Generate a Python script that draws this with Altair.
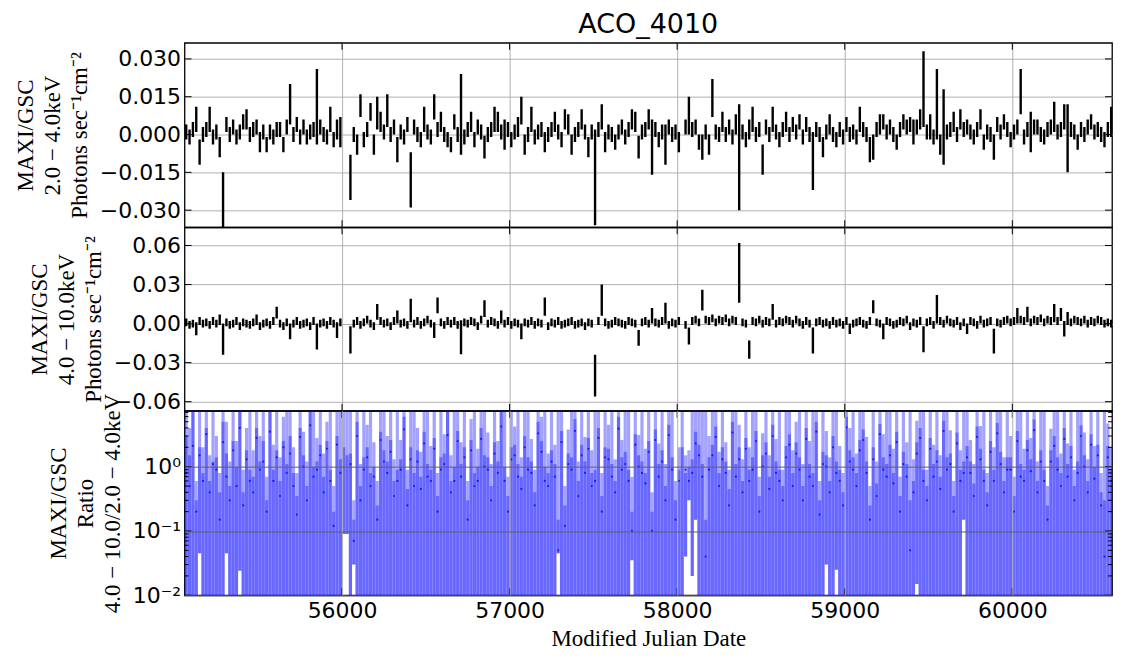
import altair as alt
import pandas as pd

# ---------------- data ----------------
BIN_START = 55070   # MJD of the first bin centre
BIN_DAYS = 20       # bin width in days

# 2.0-4.0 keV rate, units of 1e-3 photons/s/cm2 (None = no data)
SOFT_RATE = [
    1, -1, 2, 6, -7, 0, 2, 6, -1, 1, -5, -26, 4, 0, 3, -1, 1, 5, 6, 0,
    2, 3, -3, 1, -4, 1, -1, 2, 2, -4, 3, 12, 0, 4, -1, 3, -1, 1, 2, 11,
    3, 0, -1, 6, -2, 2, 1, None, None, -17, 0, -4, 11.5, -2, 2, 9, -4, 8.5, 5, 1,
    9.5, 0, 3, -6, 1, -1, 4, -18, 3, 0, -2, 6, 1, -1, 11, 2, 5, 0, -2, -4,
    5, 0, 8, -1, 2, 5, -2, 3, 1, -5, 0, 2, 6, 5, 1, 0, 2, -2, 1, 3,
    9.5, -4, 0, 6, -1, 1, 2, -3, 0, 2, 5, 1, -2, 6, 4, -4, 0, 2, 6, 1,
    -5, 1, -17, 2, 7, -3, 1, 0, -3, 1, 3, -1, 2, 6, 5, -5, 1, 2, 6, -5,
    2, -2, 1, -4, 3, 0, 1, -3, None, 3, 7.5, 2, 3, -3, -5, 1, -4, 14.5, 1, 0,
    5, 0, 3, -1, 4, -9, 1, -2, 2, 6, 0, 2, -10, 3, 0, 6, 1, -2, 2, 5,
    0, 4, 1, 5, -1, 4, 0, -10.5, 2, 0, -5, 1, 4, 0, -2, 2, -1, 4, 0, 1,
    -1, 6, 2, 0, -6, -5, 2, 4, 5, 1, 3, 0, -3, 2, 5, 3, 4, 1, 3, 6,
    18, 1, 3, -1, 12, -4, 3, 1, 2, 5, 0, 6, 2, 3, 1, -1, 2, 6, -3, 1,
    0, -5, 4, 1, 5, 2, -2, 1, 3, 17, -1, 2, 1, 3, 3, 0, -1, 2, 3, 7,
    1, 2, 7, -1.5, 2, 1, -3, 2, 0, 3, 5, 1, 2, 0, -2, 2, 5,
]
SOFT_ERR = [
    3, 3, 3, 5, 5, 3, 3, 5, 3, 3, 4, 11, 3, 3, 3, 3, 3, 3, 4, 3,
    3, 3, 4, 3, 3, 3, 3, 3, 3, 3, 3, 8, 3, 3, 3, 3, 3, 3, 3, 15,
    3, 3, 3, 5, 3, 4, 6, 0, 0, 9, 3, 4, 4.5, 3, 3, 3.5, 4, 6.5, 4, 3,
    6.5, 3, 3, 5, 3, 3, 3, 11, 3, 3, 3, 5, 3, 3, 5, 3, 4, 3, 3, 3,
    3, 3, 16, 3, 3, 4, 3, 3, 3, 4.5, 3, 3, 5, 4, 3, 6, 3, 3, 3, 4,
    5.5, 4, 3, 5, 3, 3, 3, 4, 3, 3, 4, 3, 3, 4, 4, 4, 3, 3, 4, 3,
    4, 3, 19, 3, 5, 4, 3, 3, 3, 3, 3, 3, 3, 4, 4, 4.5, 3, 3, 4, 11,
    3, 3, 3, 8, 3, 3, 3, 4, 0, 3, 7.5, 3, 3, 3, 5, 3, 4, 7.5, 3, 3,
    4, 3, 3, 3, 4, 21, 3, 3, 4, 5, 3, 3, 6, 3, 3, 5, 3, 3, 3, 4,
    3, 3, 3, 3, 3, 3, 3, 11.5, 3, 3, 4, 3, 4, 3, 3, 3, 3, 3, 3, 3,
    3, 5, 3, 3, 5, 5, 3, 4, 3, 3, 3, 3, 3, 3, 3, 3, 3, 5, 3, 4,
    15, 3, 5, 3, 14, 4, 15, 3, 3, 4, 3, 4, 3, 3, 3, 3, 3, 4, 3, 3,
    3, 5, 3, 3, 3, 3, 3, 3, 3, 9, 3, 3, 8, 3, 3, 3, 3, 3, 3, 6,
    3, 3, 5, 13.5, 3, 3, 3, 3, 3, 3, 3, 3, 3, 3, 3, 3, 6,
]

# 4.0-10.0 keV rate, units of 1e-3 photons/s/cm2
HARD_RATE = [
    1, -1, 0, -4, 2, 0, 1, -1, 2, 0, 3, -12, 1, -1, 0, 2, -2, 1, 0, -1,
    1, 3, -2, 0, 1, -1, 2, 8.5, 0, -2, 1, -6, 0, 2, -1, 0, 1, -2, 2, -10,
    0, 1, -1, 2, 0, -5, 1, None, None, -12.5, 0, 2, -1, 1, 3, 0, -2, 9, 2, 0,
    1, -2, 2, 5, 0, 1, -1, 10, 0, 2, -1, 1, 3, 0, -5, 14, 1, -1, 2, 0,
    2, -1, -10.5, 1, 0, 2, 1, -2, 3, 11.5, 0, 2, 1, -1, 5, 0, 2, -1, 1, 0,
    -6, 1, 0, 2, -1, 1, 0, 13, -2, 1, 0, 2, -1, 0, 1, 2, -1, 0, 1, -2,
    1, 0, -40, 2, 18, 1, -1, 0, 2, 1, 0, -1, 2, 1, 0, -11, 1, 2, 0, 6,
    1, 0, 2, 8, -1, 1, 0, 2, None, -1, -9.5, 2, 3, 1, 18, 3, 2, 4, 1, 3,
    2, 4, 1, 3, 2, 39, 1, 0, -20, 2, 1, 3, 0, 2, 1, 9, 0, 2, 1, 3,
    2, 0, 3, 1, -1, 2, 0, -13, 1, 2, 0, 1, -1, 2, 0, 1, -1, 2, -4, 0,
    1, 2, 0, -1, 2, 13, 1, 0, -6, 2, 1, -1, 0, 2, 1, 3, -2, 1, 0, 2,
    -12, 1, 2, -1, 11, 2, 0, 3, 1, 0, 2, -2, 1, -4, 2, 1, -1, 3, 0, 1,
    2, -13.5, 1, 0, 2, 3, 1, 2, 6, 3, 2, 7, 1, 3, 2, 4, 1, 3, 2, 8,
    2, 7, -4, 4, 1, 3, 2, 1, 3, 0, 2, 1, 3, 2, 0, 1, 0,
]
HARD_ERR = [
    3, 3, 3, 5, 3, 3, 3, 3, 3, 3, 4, 12, 3, 3, 3, 3, 3, 3, 3, 3,
    3, 4, 3, 3, 3, 3, 3, 4.5, 3, 3, 3, 6, 3, 3, 3, 3, 3, 3, 3, 10,
    3, 3, 3, 3, 3, 6, 3, 0, 0, 10.5, 3, 3, 3, 3, 3, 3, 3, 6, 3, 3,
    3, 3, 3, 5, 3, 3, 3, 9, 3, 3, 3, 3, 3, 3, 6, 6, 3, 3, 3, 3,
    3, 3, 13, 3, 3, 3, 3, 3, 3, 6.5, 3, 3, 3, 3, 5, 3, 3, 3, 3, 3,
    6, 3, 3, 3, 3, 3, 3, 7, 3, 3, 3, 3, 3, 3, 3, 3, 3, 3, 3, 3,
    3, 3, 16, 3, 12, 3, 3, 3, 3, 3, 3, 3, 3, 3, 3, 6, 3, 3, 3, 6,
    3, 3, 3, 8, 3, 3, 3, 3, 0, 3, 6.5, 3, 3, 3, 8, 3, 3, 3, 3, 3,
    3, 3, 3, 3, 3, 23, 3, 3, 7, 3, 3, 3, 3, 3, 3, 6, 3, 3, 3, 3,
    3, 3, 3, 3, 3, 3, 3, 10, 3, 3, 3, 3, 3, 3, 3, 3, 3, 3, 4, 3,
    3, 3, 3, 3, 3, 5, 3, 3, 6, 3, 3, 3, 3, 3, 3, 3, 3, 3, 3, 3,
    10, 3, 3, 3, 11, 3, 3, 3, 3, 3, 3, 3, 3, 4, 3, 3, 3, 3, 3, 3,
    3, 9.5, 3, 3, 3, 3, 3, 3, 6, 3, 3, 6, 3, 3, 3, 3, 3, 3, 3, 7,
    3, 5, 6, 5, 3, 3, 3, 3, 3, 3, 3, 3, 3, 3, 3, 3, 3,
]

# hardness ratio: central value, upper end of the bar, top of the denser part
RATIO_MID = [
    0.8, 0.5, 2.1, 0.2, 1.5, 0.6, 3.2, 0.4, 1.1, 0.9, 0.15, 2.4, 0.7, 0.3, 1.8, 0.5, 4, 0.25, 1.3, 0.6,
    0.4, 2.8, 0.9, 1.2, 0.2, 3.5, 0.6, 1.4, 0.35, 2, 0.8, 1.6, 0.5, 0.18, 2.9, 1, 0.3, 4.4, 0.7, 0.9,
    1.5, 0.4, 1.9, 0.6, 0.12, 2.2, 0.8, None, None, 1.1, 0.07, 3, 0.3, 0.9, 1.4, 0.5, 0.7, 0.15, 2.6, 1.2,
    0.8, 1.7, 0.35, 0.6, 0.9, 3.8, 0.25, 1.3, 0.5, 1.2, 0.45, 2.3, 0.7, 0.6, 1.9, 0.2, 0.9, 1.1, 3.1, 0.4,
    0.6, 2.5, 0.7, 1.4, 0.15, 1.8, 0.5, 0.6, 2.7, 1, 0.9, 0.3, 1.6, 0.8, 4.2, 0.6, 0.2, 1.3, 1.5, 0.7,
    0.45, 2, 0.9, 0.8, 0.25, 3.3, 1.7, 0.6, 0.5, 1.2, 0.7, 0.05, 2.4, 0.12, 1.1, 0.9, 3.6, 0.35, 1.5, 0.8,
    1.9, 0.5, 0.6, 2.8, 0.2, 1.4, 1.3, 0.7, 0.4, 3.9, 0.9, 1.1, 0.6, 0.1, 2.2, 1, 0.8, 0.55, 1.7, 0.1,
    2.6, 0.7, 1.2, 0.3, 3.1, 0.9, 0.15, 0.6, None, 0.9, 0.6, 0.8, 2.3, 1.5, 0.7, 0.04, 0.9, 1.5, 2.9, 0.5,
    1.3, 0.8, 0.25, 3.4, 0.7, 1.3, 0.4, 1.9, 0.6, 0.9, 2.5, 0.2, 1, 1.6, 0.45, 3, 0.8, 0.6, 0.3, 1.4,
    2.2, 0.5, 1.6, 0.9, 0.3, 2.7, 0.7, 0.5, 3.5, 0.18, 1.1, 1, 0.4, 2, 0.8, 0.6, 0.25, 4.1, 1.2, 0.9,
    0.5, 1.8, 2.6, 0.8, 0.15, 1.3, 0.35, 3.2, 0.9, 0.7, 1.5, 0.55, 2.4, 0.2, 1.1, 0.7, 0.05, 0.4, 1.6, 2.8,
    0.6, 0.3, 1.9, 0.7, 1.2, 0.45, 3.6, 0.9, 1.1, 0.2, 2.3, 0.6, 0.8, 1.4, 0.8, 0.35, 2.9, 1.3, 0.6, 0.25,
    1.7, 0.6, 3.3, 1.1, 0.4, 0.9, 0.9, 0.2, 2.5, 0.7, 0.6, 1.8, 0.85, 3.7, 0.4, 1.2, 0.6, 0.15, 1.2, 2.1,
    0.9, 0.5, 2.7, 0.7, 1.4, 0.3, 0.8, 3, 1, 0.4, 2.2, 0.65, 1.5, 0.25, 0.04, 1.4, 0.6,
]
RATIO_HI = [
    9, 4, 9, 0.6, 9, 2, 9, 1.5, 9, 3, 0.8, 9, 5, 1.2, 9, 2.5, 9, 0.9, 4, 9,
    1.8, 9, 3, 9, 0.7, 9, 2.2, 9, 1.4, 6, 9, 9, 2, 0.8, 9, 3.5, 1.2, 9, 9, 2.8,
    9, 1.6, 5, 9, 0.5, 9, 9, 9, 9, 9, 0.3, 9, 1.1, 9, 4.5, 9, 2.4, 0.6, 9, 9,
    3, 9, 1.3, 9, 2.6, 9, 0.9, 9, 9, 4, 1.7, 9, 9, 2.1, 9, 0.8, 9, 3.2, 9, 1.5,
    9, 9, 2.4, 9, 0.6, 5.5, 9, 1.9, 9, 9, 3.4, 1.1, 9, 2.5, 9, 9, 0.7, 9, 4.2, 9,
    1.4, 9, 9, 2.7, 0.9, 9, 6, 9, 1.6, 9, 2.2, 9, 9, 0.5, 3.8, 9, 9, 1.2, 9, 2.9,
    9, 1.8, 9, 9, 0.8, 9, 4.5, 9, 1.3, 9, 2.6, 9, 9, 0.7, 9, 3.1, 9, 1.9, 9, 0.4,
    9, 2.3, 9, 1.1, 9, 9, 0.6, 2, 9, 1.5, 1.8, 9, 9, 9, 9, 9, 3, 9, 9, 1.7,
    9, 2.4, 0.9, 9, 9, 4.5, 1.3, 9, 2, 9, 9, 0.7, 3.3, 9, 1.5, 9, 2.7, 9, 0.9, 9,
    9, 1.8, 5, 9, 1.1, 9, 2.5, 9, 9, 0.6, 9, 3.6, 1.4, 9, 9, 2.1, 0.8, 9, 4, 9,
    1.6, 9, 9, 2.9, 0.5, 9, 1.2, 9, 3.2, 9, 9, 1.9, 9, 0.7, 9, 2.4, 9, 1.3, 5.2, 9,
    9, 0.9, 9, 2.2, 9, 1.5, 9, 9, 3.7, 0.6, 9, 1.8, 9, 9, 2.6, 1.1, 9, 4.3, 9, 0.8,
    9, 2, 9, 9, 1.4, 9, 3, 0.7, 9, 9, 1.9, 9, 2.8, 9, 1.2, 9, 9, 0.5, 3.9, 9,
    9, 1.6, 9, 2.3, 9, 0.9, 9, 9, 3.4, 1.3, 9, 2.1, 9, 0.8, 9, 4.7, 2,
]
RATIO_DARK = [
    3, 1.5, 9, 0.3, 2, 0.8, 4, 0.6, 1.2, 1.4, 0.4, 5, 1.6, 0.5, 2.5, 1, 9, 0.4, 1.8, 0.9,
    0.7, 4, 1.2, 2.5, 0.3, 9, 0.9, 1.8, 0.6, 2.5, 1.1, 3, 0.8, 0.35, 4, 1.5, 0.5, 9, 1, 1.2,
    2.2, 0.7, 2.5, 0.9, 0.2, 3, 1.3, 2, 1.5, 1.6, 0.15, 5, 0.5, 1.4, 2, 0.8, 1, 0.25, 3.5, 1.8,
    1.2, 2.6, 0.6, 0.9, 1.3, 6, 0.45, 2, 0.8, 1.8, 0.7, 3.5, 1.1, 0.9, 2.8, 0.35, 1.4, 1.6, 9, 0.6,
    1, 3.6, 1.1, 2, 0.3, 2.6, 0.8, 1, 4, 1.5, 1.4, 0.5, 2.4, 1.2, 9, 1, 0.35, 2, 2.2, 1.1,
    0.7, 3, 1.4, 1.2, 0.4, 5, 2.5, 1, 0.8, 1.8, 1.1, 0.15, 3.6, 0.25, 1.6, 1.4, 5.5, 0.6, 2.2, 1.2,
    2.8, 0.8, 0.9, 4, 0.35, 2, 1.9, 1.1, 0.6, 6, 1.4, 1.7, 0.9, 0.2, 3.2, 1.5, 1.2, 0.8, 2.5, 0.2,
    3.8, 1.1, 1.8, 0.5, 4.5, 1.4, 0.3, 0.9, 2, 0.8, 1, 1.3, 3.5, 2.2, 1.1, 0.15, 1.4, 2.2, 4.2, 0.8,
    2, 1.2, 0.45, 5, 1.1, 2, 0.6, 2.8, 0.9, 1.4, 3.6, 0.35, 1.5, 2.4, 0.7, 4.5, 1.2, 0.9, 0.5, 2.1,
    3.2, 0.8, 2.4, 1.4, 0.5, 4, 1.1, 0.8, 5, 0.3, 1.7, 1.5, 0.6, 3, 1.2, 0.9, 0.4, 6, 1.8, 1.4,
    0.8, 2.6, 3.8, 1.2, 0.25, 2, 0.55, 4.6, 1.4, 1.1, 2.2, 0.8, 3.5, 0.35, 1.7, 1.1, 0.3, 0.6, 2.4, 4,
    0.9, 0.5, 2.8, 1.1, 1.8, 0.7, 5.2, 1.4, 1.6, 0.35, 3.4, 0.9, 1.2, 2.1, 1.2, 0.55, 4.2, 1.9, 0.9, 0.4,
    2.5, 0.9, 4.8, 1.7, 0.6, 1.4, 1.4, 0.35, 3.6, 1.1, 0.9, 2.6, 1.3, 5.4, 0.6, 1.8, 0.9, 0.25, 1.8, 3,
    1.4, 0.8, 4, 1.1, 2.1, 0.5, 1.2, 4.4, 1.5, 0.6, 3.2, 1, 2.2, 0.4, 0.3, 2.1, 0.9,
]
RATIO_LO_FLOOR = 0.001   # lower end far below the axis
RATIO_LO_RAISED = {4: 0.045, 12: 0.045, 16: 0.024, 47: 0.09, 48: 0.09, 50: 0.03,
                   111: 0.045, 133: 0.035, 149: 0.04, 150: 0.3, 151: 0.02, 152: 0.15,
                   191: 0.03, 194: 0.025, 218: 0.015, 232: 0.15}

X_DOMAIN = [55060, 60595]
X_TICKS = [56000, 57000, 58000, 59000, 60000]
SOFT_DOMAIN = [-0.0368, 0.0364]
SOFT_TICKS = [-0.03, -0.015, 0.0, 0.015, 0.03]
HARD_DOMAIN = [-0.067, 0.074]
HARD_TICKS = [-0.06, -0.03, 0.0, 0.03, 0.06]
RATIO_DOMAIN = [0.01, 7.4]
RATIO_TICKS = [0.01, 0.1, 1]
RATIO_MINOR = [0.02, 0.03, 0.04, 0.05, 0.06, 0.07, 0.08, 0.09,
               0.2, 0.3, 0.4, 0.5, 0.6, 0.7, 0.8, 0.9, 2, 3, 4, 5, 6, 7]

# ---------------- tables ----------------
def centre(i):
    return BIN_START + BIN_DAYS * i

def rate_frame(vals, errs):
    rows = []
    for i, (v, e) in enumerate(zip(vals, errs)):
        if v is None:
            continue
        rows.append({"mjd": centre(i), "lo": (v - e) / 1000.0, "hi": (v + e) / 1000.0})
    return pd.DataFrame(rows)

soft_df = rate_frame(SOFT_RATE, SOFT_ERR)
hard_df = rate_frame(HARD_RATE, HARD_ERR)

bar_rows, dark_rows, dot_rows = [], [], []
for i, (m, h, d) in enumerate(zip(RATIO_MID, RATIO_HI, RATIO_DARK)):
    lo = RATIO_LO_RAISED.get(i, RATIO_LO_FLOOR)
    bar_rows.append({"mjd": centre(i), "lo": lo, "hi": h})
    dark_rows.append({"mjd": centre(i), "lo": lo, "hi": d})
    if m is not None:
        dot_rows.append({"mjd": centre(i), "lo": m})
bar_df = pd.DataFrame(bar_rows)
dark_df = pd.DataFrame(dark_rows)
dot_df = pd.DataFrame(dot_rows)

# ---------------- styling ----------------
W = 930
H_TOP, H_MID, H_BOT = 185, 184, 185
SERIF = "Liberation Serif"
SANS = "DejaVu Sans"
GRID = "#b0b0b0"
TICK_LEN = 7

xscale = alt.Scale(domain=X_DOMAIN, nice=False, zero=False)

def x_axis(bottom):
    if bottom:
        return alt.Axis(values=X_TICKS, format="d", grid=True, gridColor=GRID, gridWidth=1,
                        ticks=False, domain=False, labelFont=SANS, labelFontSize=22,
                        labelColor="black", labelPadding=5, labelFlush=False,
                        title="Modified Julian Date", titleFont=SERIF, titleFontSize=23,
                        titleFontWeight="normal", titleColor="black", titlePadding=6,
                        zindex=1)
    return alt.Axis(values=X_TICKS, grid=True, gridColor=GRID, gridWidth=1, ticks=False,
                    domain=False, labels=False, title=None)

def y_axis(values, title, fmt=None, label_expr=None, grid_color=GRID, zindex=0):
    kw = dict(values=values, grid=True, gridColor=grid_color, gridWidth=1, ticks=False,
              domain=False, labelFont=SANS, labelFontSize=22, labelColor="black",
              labelPadding=4, title=title, titleFont=SERIF, titleFontSize=23,
              titleFontWeight="normal", titleColor="black", titleLineHeight=27,
              titlePadding=8, zindex=zindex)
    if fmt:
        kw["format"] = fmt
    if label_expr:
        kw["labelExpr"] = label_expr
    return alt.Axis(**kw)

def edge_ticks(xa, yscale, ya, yvals, height, length=TICK_LEN):
    xt = pd.DataFrame({"mjd": X_TICKS})
    yt = pd.DataFrame({"lo": yvals})
    rule = dict(color="black", strokeWidth=1)
    return [
        alt.Chart(xt).mark_rule(**rule).encode(
            x=alt.X("mjd:Q", scale=xscale, axis=xa), y=alt.value(height), y2=alt.value(height - length)),
        alt.Chart(xt).mark_rule(**rule).encode(
            x=alt.X("mjd:Q", scale=xscale, axis=xa), y=alt.value(0), y2=alt.value(length)),
        alt.Chart(yt).mark_rule(**rule).encode(
            y=alt.Y("lo:Q", scale=yscale, axis=ya), x=alt.value(0), x2=alt.value(length)),
        alt.Chart(yt).mark_rule(**rule).encode(
            y=alt.Y("lo:Q", scale=yscale, axis=ya), x=alt.value(W), x2=alt.value(W - length)),
    ]

# ---------------- top panel ----------------
soft_scale = alt.Scale(domain=SOFT_DOMAIN, nice=False, zero=False)
xa_top = x_axis(False)
ya_top = y_axis(SOFT_TICKS, ["MAXI/GSC", "2.0 \u2212 4.0keV", "Photons sec\u207b\u00b9cm\u207b\u00b2"], fmt=".3f")
soft_bars = alt.Chart(soft_df).mark_rule(color="black", strokeWidth=2.4, clip=True).encode(
    x=alt.X("mjd:Q", scale=xscale, axis=xa_top),
    y=alt.Y("lo:Q", scale=soft_scale, axis=ya_top),
    y2="hi:Q",
)
top = alt.layer(soft_bars, *edge_ticks(xa_top, soft_scale, ya_top, SOFT_TICKS, H_TOP)).properties(
    width=W, height=H_TOP,
    title=alt.TitleParams("ACO_4010", font=SANS, fontSize=27, fontWeight="normal",
                          color="black", anchor="middle", frame="group", offset=3),
)

# ---------------- middle panel ----------------
hard_scale = alt.Scale(domain=HARD_DOMAIN, nice=False, zero=False)
xa_mid = x_axis(False)
ya_mid = y_axis(HARD_TICKS, ["MAXI/GSC", "4.0 \u2212 10.0keV", "Photons sec\u207b\u00b9cm\u207b\u00b2"], fmt=".2f")
hard_bars = alt.Chart(hard_df).mark_rule(color="black", strokeWidth=2.4, clip=True).encode(
    x=alt.X("mjd:Q", scale=xscale, axis=xa_mid),
    y=alt.Y("lo:Q", scale=hard_scale, axis=ya_mid),
    y2="hi:Q",
)
mid = alt.layer(hard_bars, *edge_ticks(xa_mid, hard_scale, ya_mid, HARD_TICKS, H_MID)).properties(
    width=W, height=H_MID)

# ---------------- bottom panel ----------------
ratio_scale = alt.Scale(type="log", domain=RATIO_DOMAIN, nice=False)
label_expr = ("datum.value >= 0.5 ? '10\u2070' : (datum.value >= 0.05 ? '10\u207b\u00b9' : '10\u207b\u00b2')")
xa_bot = x_axis(True)
ya_bot = y_axis(RATIO_TICKS, ["MAXI/GSC", "Ratio", "4.0 \u2212 10.0/2.0 \u2212 4.0keV"],
                label_expr=label_expr, grid_color="#606060", zindex=1)
ratio_bars = alt.Chart(bar_df).mark_rule(color="#0000ff", strokeWidth=3.2, opacity=0.36, clip=True).encode(
    x=alt.X("mjd:Q", scale=xscale, axis=xa_bot),
    y=alt.Y("lo:Q", scale=ratio_scale, axis=ya_bot),
    y2="hi:Q",
)
ratio_dark = alt.Chart(dark_df).mark_rule(color="#0000ff", strokeWidth=3.2, opacity=0.36, clip=True).encode(
    x=alt.X("mjd:Q", scale=xscale, axis=xa_bot),
    y=alt.Y("lo:Q", scale=ratio_scale, axis=ya_bot),
    y2="hi:Q",
)
ratio_dots = alt.Chart(dot_df).mark_circle(color="#1010ff", size=5, opacity=0.9, clip=True).encode(
    x=alt.X("mjd:Q", scale=xscale, axis=xa_bot),
    y=alt.Y("lo:Q", scale=ratio_scale, axis=ya_bot),
)
minor_df = pd.DataFrame({"lo": RATIO_MINOR})
minor_left = alt.Chart(minor_df).mark_rule(color="black", strokeWidth=1).encode(
    y=alt.Y("lo:Q", scale=ratio_scale, axis=ya_bot), x=alt.value(0), x2=alt.value(4))
minor_right = alt.Chart(minor_df).mark_rule(color="black", strokeWidth=1).encode(
    y=alt.Y("lo:Q", scale=ratio_scale, axis=ya_bot), x=alt.value(W), x2=alt.value(W - 4))
bot = alt.layer(ratio_bars, ratio_dark, ratio_dots, minor_left, minor_right,
                *edge_ticks(xa_bot, ratio_scale, ya_bot, RATIO_TICKS, H_BOT)).properties(
    width=W, height=H_BOT)

chart = alt.vconcat(top, mid, bot, spacing=0, bounds="flush").configure_view(
    stroke="black", strokeWidth=1.3
).properties(background="white", padding={"left": 5, "top": 1, "right": 5, "bottom": 5})

chart.save("out.html", embed_options={"renderer": "svg", "actions": False})
